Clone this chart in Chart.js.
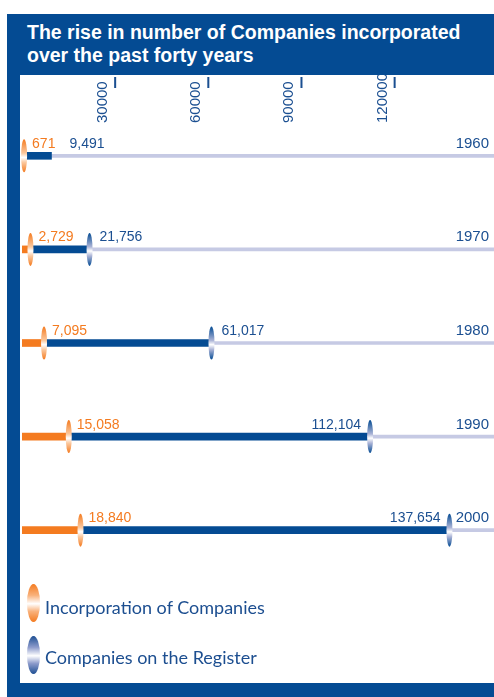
<!DOCTYPE html>
<html>
<head>
<meta charset="utf-8">
<script src="https://cdn.jsdelivr.net/npm/chart.js"></script>
<style>
  body { margin: 0; background: #fff; width: 494px; height: 697px; overflow: hidden; position: relative; }
  #frame { position: absolute; left: 7px; top: 14px; width: 487px; height: 683px; background: #044b93; }
  #title { position: absolute; left: 20px; top: 7px; color: #fff; font: bold 19.5px "Liberation Sans", Arial, sans-serif; line-height: 23px; }
  #inner { position: absolute; left: 20px; top: 75px; width: 474px; height: 608px; background: #fff; }
  #myChart { position: absolute; left: 0; top: 0; }
  .leg { position: absolute; left: 7px; width: 13px; height: 38px; border-radius: 50%; }
  .legtxt { position: absolute; left: 25px; font: 18px Lato, sans-serif; color: #1c4e90; white-space: nowrap; }
</style>
</head>
<body>
<div id="frame">
  <div id="title">The rise in number of Companies incorporated<br>over the past forty years</div>
</div>
<div id="inner">
  <canvas id="myChart" width="474" height="608"></canvas>
  <div id="legend"></div>
</div>
<script>
// dati
const years = ['1960', '1970', '1980', '1990', '2000'];
const incorporated = [671, 2729, 7095, 15058, 18840];
const onRegister = [9491, 21756, 61017, 112104, 137654];
const tickValues = [30000, 60000, 90000, 120000];
const axisMax = 152000;

const orange = '#f47b20';
const blue = '#044b93';
const textBlue = '#1b4f91';

function fmt(v) {
  return v.toLocaleString('en-US');
}

// ovale con sfumatura verticale
function oval(ctx, x, y, color, light) {
  const g = ctx.createLinearGradient(0, y - 16.5, 0, y + 16.5);
  g.addColorStop(0, color);
  g.addColorStop(0.42, light);
  g.addColorStop(0.55, '#ffffff');
  g.addColorStop(0.7, light);
  g.addColorStop(1, color);
  ctx.fillStyle = g;
  ctx.beginPath();
  ctx.ellipse(x, y, 3, 16.5, 0, 0, Math.PI * 2);
  ctx.fill();
}

const decorations = {
  id: 'decorations',
  afterDatasetsDraw(chart) {
    const ctx = chart.ctx;
    const xs = chart.scales.x;
    const ys = chart.scales.y;
    const area = chart.chartArea;
    ctx.save();

    // tacche e etichette dell'asse in alto
    ctx.font = '15px "Liberation Sans", Arial, sans-serif';
    ctx.fillStyle = textBlue;
    tickValues.forEach(v => {
      const x = xs.getPixelForValue(v);
      ctx.fillRect(x - 1, 2, 2, 11);
      ctx.save();
      ctx.translate(x - 8, 48);
      ctx.rotate(-Math.PI / 2);
      ctx.textAlign = 'left';
      ctx.textBaseline = 'alphabetic';
      ctx.fillText(String(v), 0, 0);
      ctx.restore();
    });

    years.forEach((yr, i) => {
      const y = ys.getPixelForValue(i);
      const xi = xs.getPixelForValue(incorporated[i]);
      const xr = xs.getPixelForValue(onRegister[i]);
      if (i > 0) oval(ctx, xr, y, blue, '#aab3d6');
      oval(ctx, xi, y, orange, '#fbc89e');

      ctx.textBaseline = 'alphabetic';
      ctx.font = '14px "Liberation Sans", Arial, sans-serif';
      ctx.fillStyle = orange;
      ctx.textAlign = 'left';
      ctx.fillText(fmt(incorporated[i]), xi + 8, y - 8);

      ctx.fillStyle = textBlue;
      if (xr > area.left + area.width * 0.6) {
        ctx.textAlign = 'right';
        ctx.fillText(fmt(onRegister[i]), xr - 9, y - 8);
      } else {
        ctx.textAlign = 'left';
        ctx.fillText(fmt(onRegister[i]), xr + (i > 0 ? 10 : 18), y - 8);
      }

      ctx.font = '15px "Liberation Sans", Arial, sans-serif';
      ctx.textAlign = 'right';
      ctx.fillText(yr, 469, y - 8);
    });
    ctx.restore();
  }
};

var ctx = document.getElementById('myChart').getContext('2d');
var myChart = new Chart(ctx, {
  type: 'bar',
  data: {
    labels: years,
    datasets: [
      {
        label: 'Incorporation of Companies',
        data: incorporated.map(v => [0, v]),
        backgroundColor: orange,
        barThickness: 7
      },
      {
        label: 'Companies on the Register',
        data: onRegister.map((v, i) => [incorporated[i], v]),
        backgroundColor: blue,
        barThickness: 7
      },
      {
        label: 'rest',
        data: onRegister.map(v => [v, axisMax]),
        backgroundColor: '#c6cae4',
        barThickness: 3
      }
    ]
  },
  options: {
    indexAxis: 'y',
    responsive: false,
    animation: false,
    devicePixelRatio: 1,
    datasets: { bar: { grouped: false } },
    layout: { padding: { left: 2, right: 0, top: 34, bottom: 106 } },
    scales: {
      x: { type: 'linear', min: 0, max: axisMax, display: false },
      y: { type: 'category', offset: true, display: false }
    },
    plugins: {
      legend: { display: false },
      tooltip: { enabled: false }
    }
  },
  plugins: [decorations]
});

// legenda in HTML, presa dalle serie
const legend = document.getElementById('legend');
const legStyles = [
  { top: 509, base: 538, bg: 'linear-gradient(to bottom, #f47b20 0%, #f9b27c 30%, #fff 52%, #f9b27c 72%, #f47b20 100%)' },
  { top: 561, base: 588, bg: 'linear-gradient(to bottom, #1e4f93 0%, #8e9ccc 30%, #fff 52%, #8e9ccc 72%, #1e4f93 100%)' }
];
myChart.data.datasets.slice(0, 2).forEach((ds, i) => {
  const o = document.createElement('div');
  o.className = 'leg';
  o.style.top = legStyles[i].top + 'px';
  o.style.background = legStyles[i].bg;
  legend.appendChild(o);
  const t = document.createElement('div');
  t.className = 'legtxt';
  t.style.top = (legStyles[i].base - 17) + 'px';
  t.textContent = ds.label;
  legend.appendChild(t);
});
</script>
</body>
</html>
